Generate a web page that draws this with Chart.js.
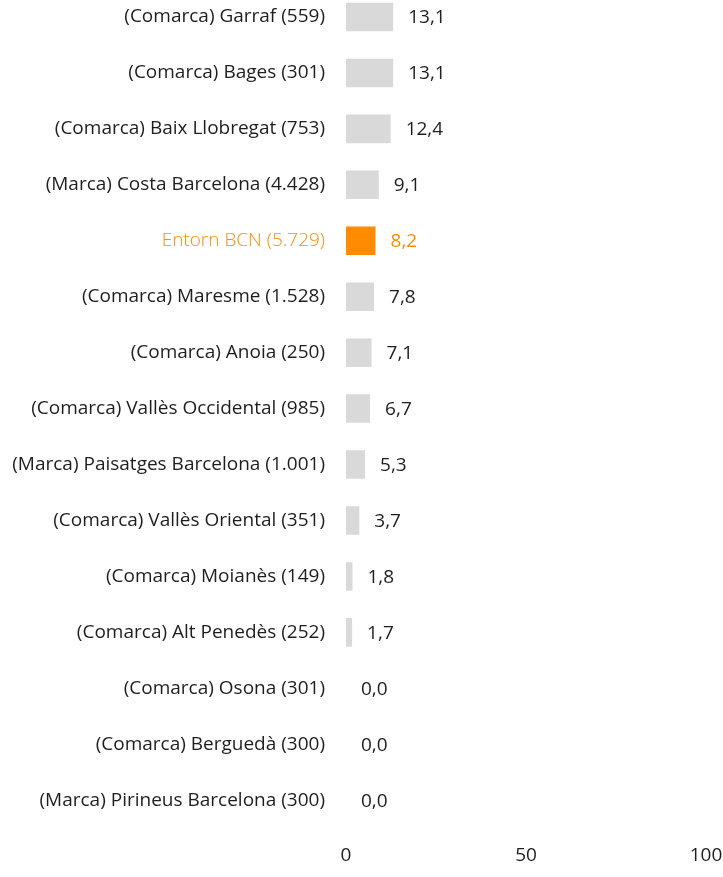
<!DOCTYPE html>
<html>
<head>
<meta charset="utf-8">
<script src="https://cdn.jsdelivr.net/npm/chart.js@4/dist/chart.umd.min.js"></script>
<style>
	html, body { margin: 0; padding: 0; background: #fff; overflow: hidden; }
	#wrap { position: relative; width: 723px; height: 894px; margin-top: -11px; }
</style>
</head>
<body>
<div id="wrap"><canvas id="myChart"></canvas></div>
<script>
var categories = [
	"(Comarca) Garraf (559)",
	"(Comarca) Bages (301)",
	"(Comarca) Baix Llobregat (753)",
	"(Marca) Costa Barcelona (4.428)",
	"Entorn BCN (5.729)",
	"(Comarca) Maresme (1.528)",
	"(Comarca) Anoia (250)",
	"(Comarca) Vallès Occidental (985)",
	"(Marca) Paisatges Barcelona (1.001)",
	"(Comarca) Vallès Oriental (351)",
	"(Comarca) Moianès (149)",
	"(Comarca) Alt Penedès (252)",
	"(Comarca) Osona (301)",
	"(Comarca) Berguedà (300)",
	"(Marca) Pirineus Barcelona (300)"
];
var values = [13.1, 13.1, 12.4, 9.1, 8.2, 7.8, 7.1, 6.7, 5.3, 3.7, 1.8, 1.7, 0.0, 0.0, 0.0];
var xTicks = [0, 50, 100];
var highlight = "Entorn BCN (5.729)";

var grey = '#D9D9D9';
var orange = '#FF8C00';
var textColor = '#1E1E1E';
var fontSize = 19;

function isHi(i) { return categories[i] === highlight; }

// value labels next to each bar
var valueLabels = {
	id: 'valueLabels',
	afterDatasetsDraw: function(chart) {
		var ctx = chart.ctx;
		var meta = chart.getDatasetMeta(0);
		ctx.save();
		ctx.font = fontSize + 'px "Open Sans"';
		ctx.textAlign = 'left';
		ctx.textBaseline = 'middle';
		meta.data.forEach(function(bar, i) {
			ctx.fillStyle = isHi(i) ? orange : textColor;
			ctx.fillText(values[i].toFixed(1).replace('.', ','), bar.x + 15, bar.y + 1);
		});
		ctx.restore();
	}
};

var ctx = document.getElementById("myChart");
var myChart = new Chart(ctx, {
	type: 'bar',
	data: {
		labels: categories,
		datasets: [{
			data: values,
			backgroundColor: categories.map(function(c, i) { return isHi(i) ? orange : grey; }),
			borderWidth: 0,
			categoryPercentage: 1,
			barPercentage: 0.51
		}]
	},
	options: {
		indexAxis: 'y',
		responsive: true,
		maintainAspectRatio: false,
		animation: false,
		layout: { padding: { left: 0, right: 17, top: 0, bottom: 0 } },
		plugins: {
			legend: { display: false },
			tooltip: { enabled: false }
		},
		scales: {
			x: {
				min: xTicks[0],
				max: xTicks[xTicks.length - 1],
				afterBuildTicks: function(axis) {
					axis.ticks = xTicks.map(function(v) { return { value: v }; });
				},
				// let the last tick label run off the edge like the original
				afterFit: function(axis) { axis.paddingLeft = 0; axis.paddingRight = 0; },
				grid: { display: false, drawTicks: false },
				border: { display: false },
				ticks: {
					padding: 16,
					color: textColor,
					font: { family: 'Open Sans', size: fontSize }
				}
			},
			y: {
				afterFit: function(axis) {
					axis.width = 346;
					axis.paddingTop = 0;
					axis.paddingBottom = 0;
				},
				grid: { display: false, drawTicks: false },
				border: { display: false },
				ticks: {
					padding: 21,
					color: function(c) { return isHi(c.index) ? orange : textColor; },
					font: function(c) {
						return { family: 'Open Sans', size: fontSize, weight: isHi(c.index) ? 300 : 400 };
					}
				}
			}
		}
	},
	plugins: [valueLabels]
});
</script>
</body>
</html>
